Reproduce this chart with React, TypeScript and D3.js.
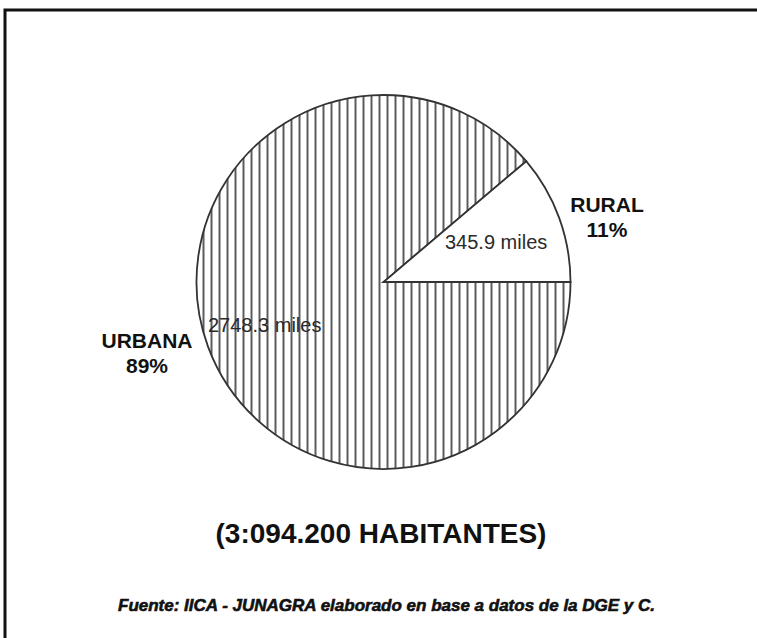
import { useEffect, useRef } from 'react';
import * as d3 from 'd3';

const categories = ['URBANA', 'RURAL'];
const values = [2748.3, 345.9];
const percentLabels = ['89%', '11%'];
const valueLabels = ['2748.3 miles', '345.9 miles'];
const title = '(3:094.200 HABITANTES)';
const source = 'Fuente:  IICA - JUNAGRA elaborado en base a datos  de la DGE y C.';

const App = () => {
  const ref = useRef<HTMLDivElement>(null);

  useEffect(() => {
    d3.select(ref.current).selectAll('*').remove();

    const width = 757; const height = 638;
    const cx = 383.5; const cy = 282; const radius = 187;
    const font = 'Liberation Sans, Arial, Helvetica, sans-serif';

    const svg = d3.select(ref.current)
      .append('svg')
      .attr('width', width)
      .attr('height', height)
      .style('position', 'absolute')
      .style('left', 0)
      .style('top', 0)
      .style('background', '#fff');

    const defs = svg.append('defs');
    const pattern = defs.append('pattern')
      .attr('id', 'vstripes')
      .attr('patternUnits', 'userSpaceOnUse')
      .attr('width', 8)
      .attr('height', 8);
    pattern.append('rect').attr('width', 8).attr('height', 8).attr('fill', '#fff');
    pattern.append('line')
      .attr('x1', 4).attr('x2', 4).attr('y1', 0).attr('y2', 8)
      .attr('stroke', '#333').attr('stroke-width', 1.6);

    // frame (right and bottom edges are cut off in the scan)
    svg.append('path')
      .attr('d', `M5,${height} L5,10 L${width},10`)
      .attr('fill', 'none')
      .attr('stroke', '#111')
      .attr('stroke-width', 3);

    const pie = d3.pie<number>()
      .sort(null)
      .startAngle(Math.PI / 2)
      .endAngle(Math.PI / 2 + 2 * Math.PI);

    const arc = d3.arc<d3.PieArcDatum<number>>()
      .innerRadius(0)
      .outerRadius(radius);

    const g = svg.append('g').attr('transform', `translate(${cx},${cy})`);

    g.selectAll('path.slice')
      .data(pie(values))
      .enter()
      .append('path')
      .attr('class', 'slice')
      .attr('d', arc)
      .attr('fill', (d, i) => i === 0 ? 'url(#vstripes)' : '#fff')
      .attr('stroke', '#333')
      .attr('stroke-width', 1.8);

    // value labels inside the slices
    const valuePos = [[208 - cx, 332 - cy], [445 - cx, 249 - cy]];
    g.selectAll('text.value')
      .data(valueLabels)
      .enter()
      .append('text')
      .attr('class', 'value')
      .attr('x', (d, i) => valuePos[i][0])
      .attr('y', (d, i) => valuePos[i][1])
      .attr('font-family', font)
      .attr('font-size', 20)
      .attr('fill', '#2a2a2a')
      .text(d => d);

    // category labels outside
    const catPos = [[147, 348], [607, 212]];
    categories.forEach((c, i) => {
      const t = svg.append('text')
        .attr('x', catPos[i][0])
        .attr('y', catPos[i][1])
        .attr('text-anchor', 'middle')
        .attr('font-family', font)
        .attr('font-weight', 'bold')
        .attr('font-size', 21)
        .attr('fill', '#111');
      t.append('tspan').attr('x', catPos[i][0]).text(c);
      t.append('tspan').attr('x', catPos[i][0]).attr('dy', 25).text(percentLabels[i]);
    });

    svg.append('text')
      .attr('x', 381)
      .attr('y', 543)
      .attr('text-anchor', 'middle')
      .attr('font-family', font)
      .attr('font-weight', 'bold')
      .attr('font-size', 28)
      .attr('fill', '#111')
      .text(title);

    svg.append('text')
      .attr('x', 118)
      .attr('y', 611)
      .attr('font-family', font)
      .attr('font-weight', 'bold')
      .attr('font-style', 'italic')
      .attr('font-size', 17)
      .attr('textLength', 537)
      .attr('lengthAdjust', 'spacingAndGlyphs')
      .attr('fill', '#111')
      .attr('stroke', '#111')
      .attr('stroke-width', 0.6)
      .text(source);
  }, []);

  return <div ref={ref}></div>;
};

export default App;
